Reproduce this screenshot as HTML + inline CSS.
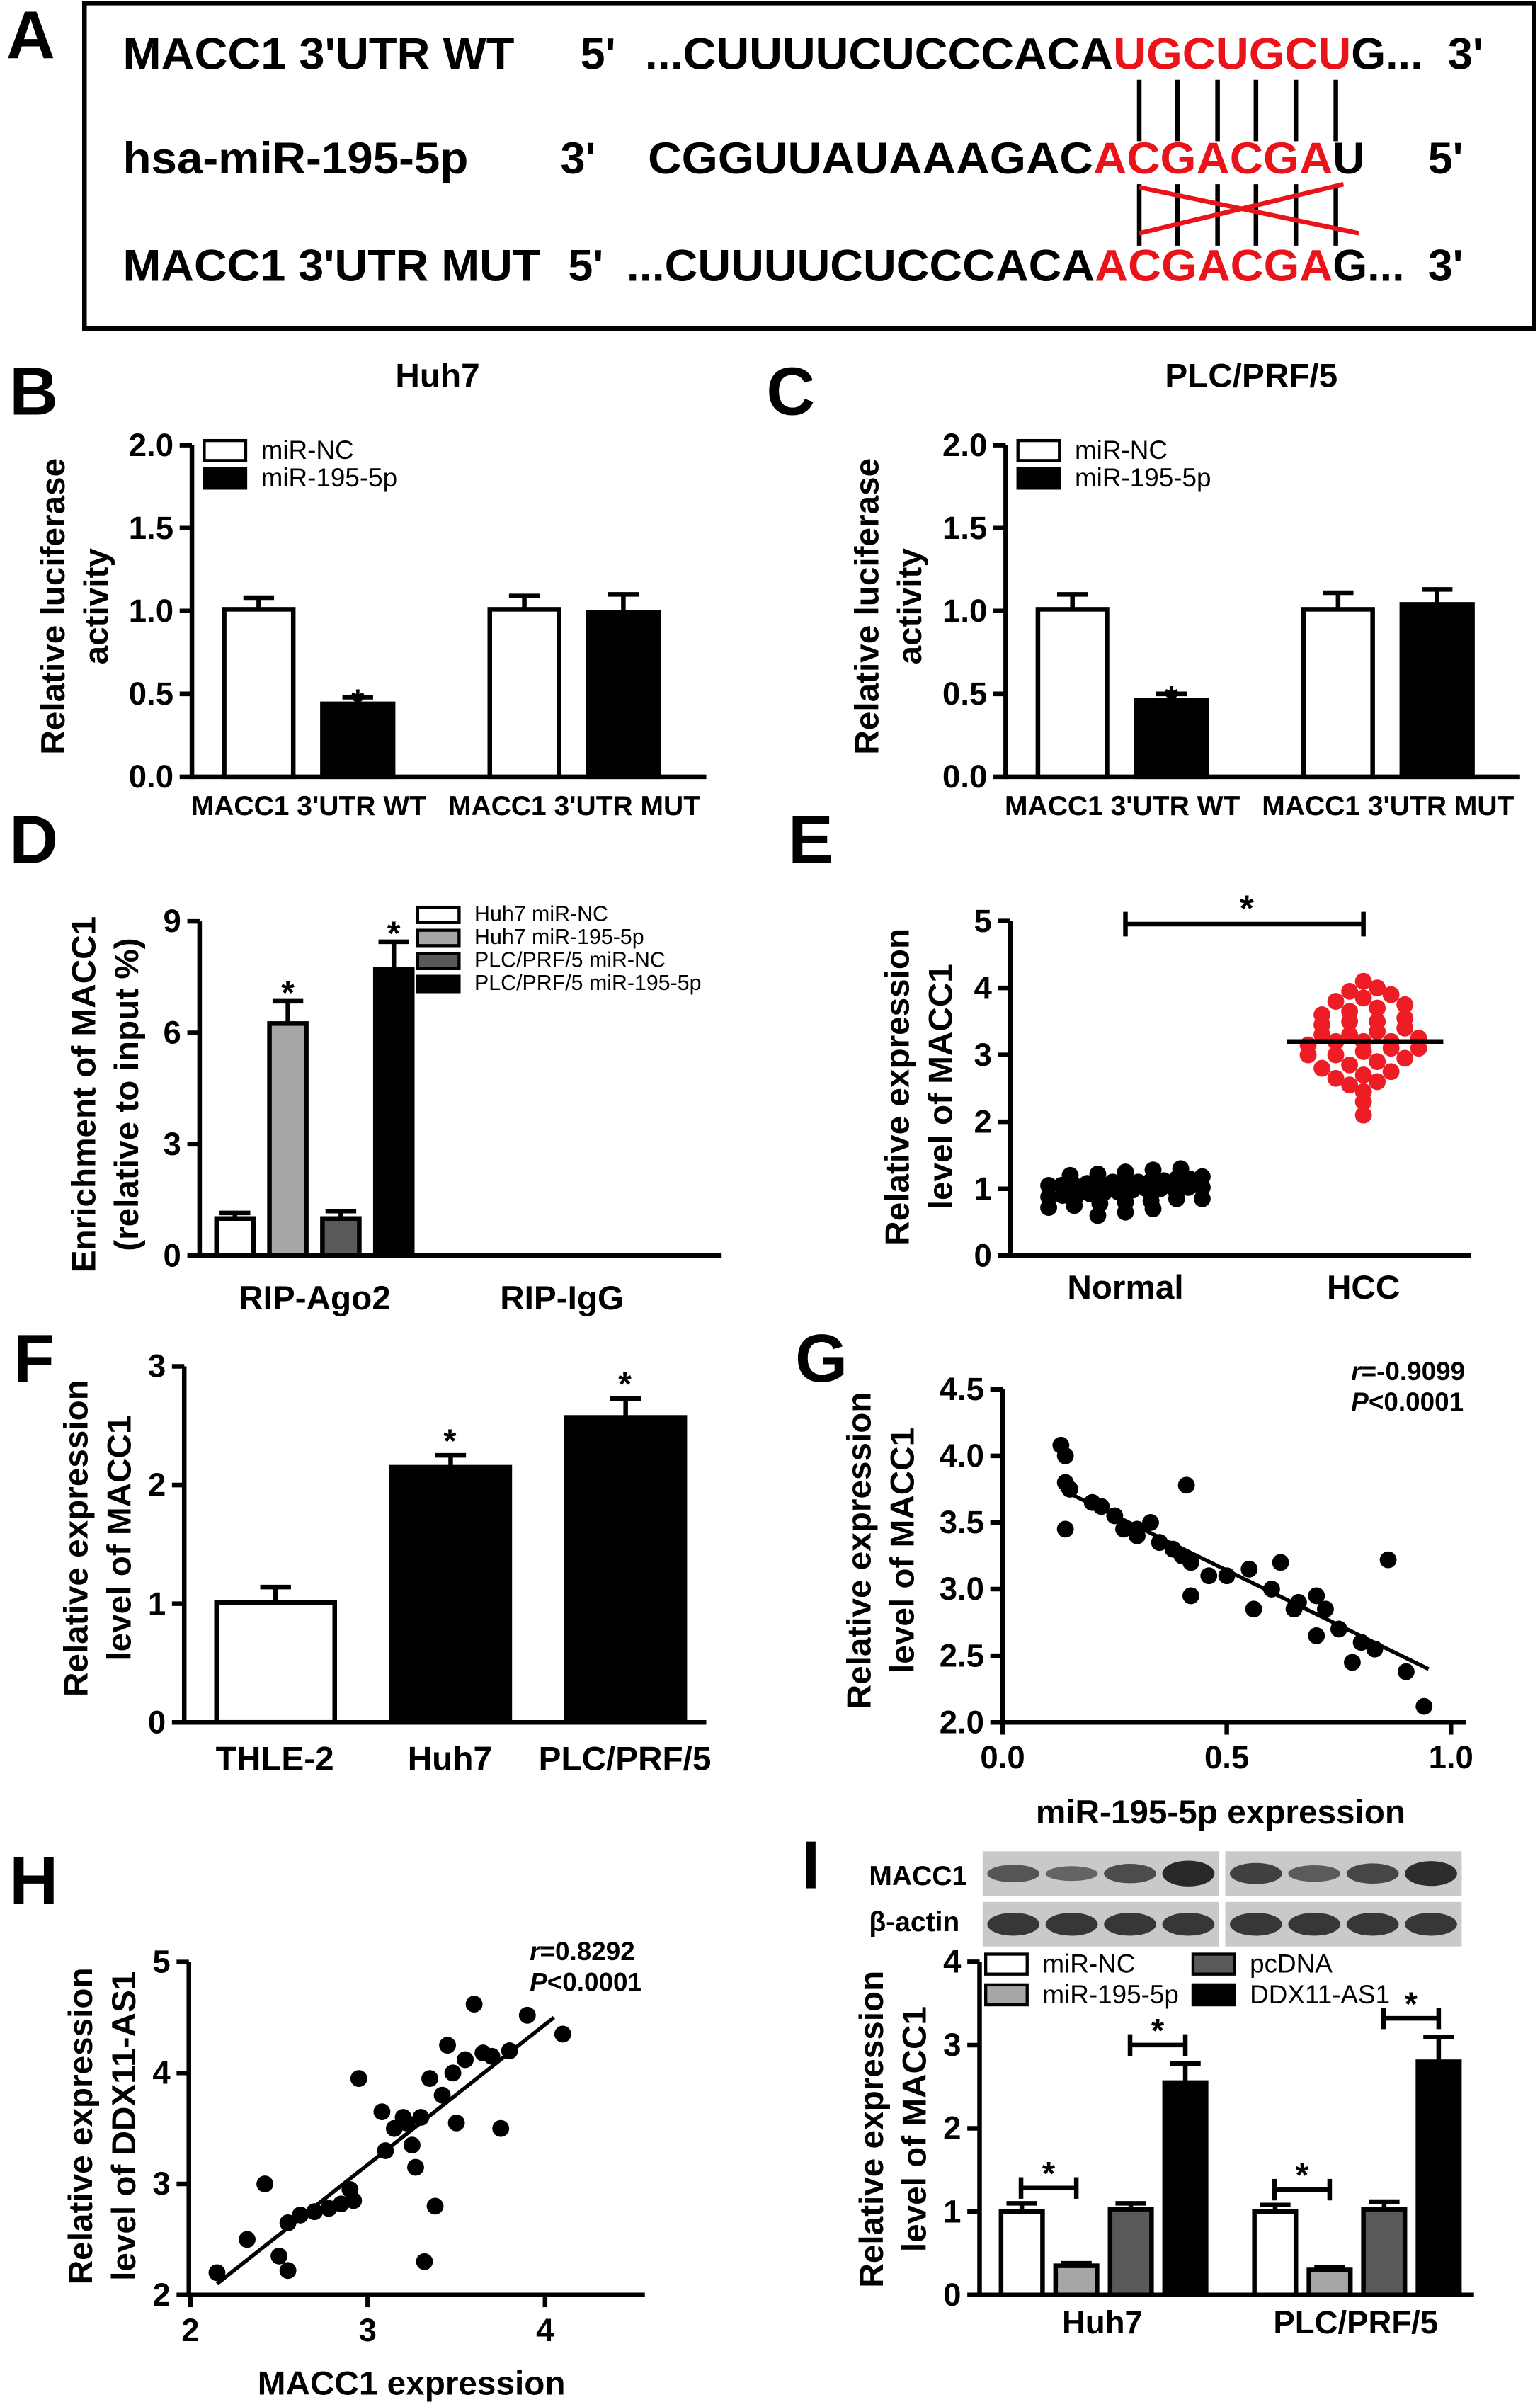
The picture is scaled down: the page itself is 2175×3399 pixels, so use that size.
<!DOCTYPE html>
<html><head><meta charset="utf-8"><style>
html,body{margin:0;padding:0;background:#fff}
svg{display:block}
text{font-family:"Liberation Sans",Arial,sans-serif}
</style></head><body>
<svg id="fig" width="2175" height="3399" viewBox="0 0 1003 1568" preserveAspectRatio="none" xmlns="http://www.w3.org/2000/svg">
<g font-weight="bold" font-size="29">
<rect x="55" y="2" width="944" height="212" fill="none" stroke="#000" stroke-width="3"/>
<text x="80" y="45" textLength="255" lengthAdjust="spacingAndGlyphs">MACC1 3'UTR WT</text>
<text x="378" y="45">5'</text>
<text x="420" y="45" textLength="305" lengthAdjust="spacingAndGlyphs">...CUUUUCUCCCACA</text>
<text x="725" y="45" textLength="155" lengthAdjust="spacingAndGlyphs" fill="#e8141a">UGCUGCU</text>
<text x="880" y="45">G...</text>
<text x="943" y="45">3'</text>
<text x="80" y="113" textLength="225" lengthAdjust="spacingAndGlyphs">hsa-miR-195-5p</text>
<text x="365" y="113">3'</text>
<text x="422" y="113" textLength="290" lengthAdjust="spacingAndGlyphs">CGGUUAUAAAGAC</text>
<text x="712" y="113" textLength="156" lengthAdjust="spacingAndGlyphs" fill="#e8141a">ACGACGA</text>
<text x="868" y="113">U</text>
<text x="930" y="113">5'</text>
<text x="80" y="183" textLength="272" lengthAdjust="spacingAndGlyphs">MACC1 3'UTR MUT</text>
<text x="370" y="183">5'</text>
<text x="408" y="183" textLength="305" lengthAdjust="spacingAndGlyphs">...CUUUUCUCCCACA</text>
<text x="713" y="183" textLength="155" lengthAdjust="spacingAndGlyphs" fill="#e8141a">ACGACGA</text>
<text x="868" y="183">G...</text>
<text x="930" y="183">3'</text>
<g id="pairs" stroke="#000" stroke-width="3"></g>
<line x1="742" y1="122" x2="885" y2="152" stroke="#e8141a" stroke-width="3"/>
<line x1="742" y1="152" x2="875" y2="120" stroke="#e8141a" stroke-width="3"/>
</g>
</svg>
<script>
const NS='http://www.w3.org/2000/svg';
const svg=document.getElementById('fig');
function el(tag,parent,a,name){const e=document.createElementNS(NS,tag);for(const k in a)e.setAttribute(k,a[k]);


(parent||svg).appendChild(e);return e;}
function tx(parent,x,y,s,size,name,opts){const t=el('text',parent,Object.assign({x:x,y:y,'font-size':size,'font-weight':'bold','text-anchor':'middle'},opts||{}),name);t.textContent=s;return t;}
const pairs=document.getElementById('pairs');
const pairX=[742,767,793,818,844,870];
pairX.forEach((x,i)=>{el('line',pairs,{x1:x,y1:52,x2:x,y2:92},'pair-line');el('line',pairs,{x1:x,y1:120,x2:x,y2:160},'mut-pair-line');});
[['A',20,38],['B',22,270],['C',515,270],['D',22,562],['E',528,562],['F',22,900],['G',535,900],['H',22,1240],['I',528,1230]].forEach(p=>tx(null,p[1],p[2],p[0],44,'panel-letter-'+p[0].toLowerCase()));

function ytitle(g,x,y,lines,size){lines.forEach((l,i)=>{tx(g,0,0,l,size||22,'y-axis-title',{transform:`translate(${x+i*28},${y}) rotate(-90)`});});}
function axes(g,x0,x1,y0,ys,ticks,fmt,size){
  el('line',g,{x1:x0,y1:y0,x2:x1,y2:y0,stroke:'#000','stroke-width':3},'x-axis');
  const top=ys(ticks[ticks.length-1]);
  el('line',g,{x1:x0,y1:y0+1.5,x2:x0,y2:top,stroke:'#000','stroke-width':3},'y-axis');
  ticks.forEach(t=>{const y=ys(t);el('line',g,{x1:x0-8,y1:y,x2:x0,y2:y,stroke:'#000','stroke-width':3},'y-tick');
  tx(g,x0-12,y+7,fmt(t),size||20,'y-tick-label',{'text-anchor':'end'});});
}
function bar(g,x,w,v,err,fill,ys,name){
  if(err!=null){el('line',g,{x1:x+w/2,y1:ys(v),x2:x+w/2,y2:ys(err),stroke:'#000','stroke-width':3},name+'-error');
  el('line',g,{x1:x+w/2-10,y1:ys(err),x2:x+w/2+10,y2:ys(err),stroke:'#000','stroke-width':3},name+'-error-cap');}
  el('rect',g,{x:x,y:ys(v),width:w,height:ys(0)-ys(v),fill:fill,stroke:'#000','stroke-width':3},name);
}
function legend(g,x,y,fill,label,size,w,h,name){el('rect',g,{x:x,y:y,width:w,height:h,fill:fill,stroke:'#000','stroke-width':2},name+'-swatch');
tx(g,x+w+10,y+h-1,label,size,name+'-label',{'text-anchor':'start','font-weight':'normal'});}

// ===== Panels B & C =====
const lucCats=["MACC1 3'UTR WT","MACC1 3'UTR MUT"];
const lucTicks=[0,0.5,1.0,1.5,2.0];
const huhNC=[1.01,1.01], huhNCerr=[1.08,1.09];
const huh195=[0.44,0.99], huh195err=[0.48,1.10];
const plcNC=[1.01,1.01], plcNCerr=[1.10,1.11];
const plc195=[0.46,1.04], plc195err=[0.50,1.13];
const lucStar=[true,false];
function lucPanel(ox,title,nc,ncE,m,mE,name){
  const g=el('g',null,{},name);
  const ys=v=>506-v*108;
  tx(g,ox+285,252,title,22,'chart-title');
  axes(g,ox+125,ox+460,506,ys,lucTicks,t=>t.toFixed(1),21);
  lucCats.forEach((c,i)=>{const cx=ox+146+i*173;
    bar(g,cx,45,nc[i],ncE[i],'#fff',ys,'bar-mir-nc');
    bar(g,cx+64,46,m[i],mE[i],'#000',ys,'bar-mir-195');
    if(lucStar[i])tx(g,cx+87,ys(mE[i])+10,'*',22,'significance-star');
    tx(g,cx+55,531,c,18,'x-category-label');});
  legend(g,ox+133,287,'#fff','miR-NC',17,27,13,'legend-mir-nc');
  legend(g,ox+133,305,'#000','miR-195-5p',17,27,13,'legend-mir-195');
  ytitle(g,ox+42,395,['Relative  luciferase','activity'],22);
}
lucPanel(0,'Huh7',huhNC,huhNCerr,huh195,huh195err,'panel-b');
lucPanel(530,'PLC/PRF/5',plcNC,plcNCerr,plc195,plc195err,'panel-c');

// ===== Panel D =====
const ripCats=['RIP-Ago2','RIP-IgG'];
const ripTicks=[0,3,6,9];
const ripSeries=['Huh7 miR-NC','Huh7 miR-195-5p','PLC/PRF/5 miR-NC','PLC/PRF/5 miR-195-5p'];
const ripAgo=[1.0,6.25,1.0,7.7];
const ripAgoErr=[1.15,6.85,1.2,8.45];
const ripIgG=[0,0,0,0];
const ripStar=[false,true,false,true];
(function(){const g=el('g',null,{},'panel-d');const ys=v=>818-v*24.2;
const fills=['#fff','#a6a6a6','#595959','#000'];
axes(g,130,470,818,ys,ripTicks,t=>String(t),21);
ripSeries.forEach((s,i)=>{const x=141+i*34.5;bar(g,x,24,ripAgo[i],ripAgoErr[i],fills[i],ys,'bar-rip-ago2');
 if(ripStar[i])tx(g,x+12,ys(ripAgoErr[i])+2,'*',22,'significance-star');
 if(ripIgG[i]>0)bar(g,x+160,24,ripIgG[i],null,fills[i],ys,'bar-rip-igg');
 legend(g,272,591+i*15,fills[i],s,14,27,10,'legend-entry');});
tx(g,205,853,ripCats[0],22,'x-category-label');tx(g,366,853,ripCats[1],22,'x-category-label');
ytitle(g,62,713,['Enrichment of MACC1','(relative to input %)'],22);})();

// ===== Panel E =====
const normalVals=[0.6,0.65,0.7,0.72,0.75,0.78,0.8,0.82,0.85,0.85,0.88,0.9,0.9,0.92,0.95,0.95,0.98,1.0,1.0,1.0,1.02,1.02,1.05,1.05,1.05,1.08,1.08,1.1,1.1,1.1,1.12,1.12,1.15,1.15,1.18,1.2,1.22,1.25,1.28,1.3];
const hccVals=[2.1,2.3,2.45,2.55,2.6,2.65,2.7,2.75,2.8,2.85,2.9,2.95,3.0,3.0,3.05,3.1,3.1,3.15,3.2,3.2,3.2,3.25,3.3,3.3,3.35,3.4,3.45,3.5,3.5,3.55,3.6,3.65,3.7,3.75,3.8,3.85,3.9,3.95,4.0,4.1];
const normalMean=1.0, hccMean=3.2;
const eTicks=[0,1,2,3,4,5];
(function(){const g=el('g',null,{},'panel-e');const ys=v=>818-v*43.6;
axes(g,658,958,818,ys,eTicks,t=>String(t),21);
function swarm(vals,cx,color,name){const rows={};vals.forEach(v=>{const r=Math.round(v/0.16);rows[r]=(rows[r]||[]);rows[r].push(v);});
 Object.keys(rows).forEach(r=>{const arr=rows[r];const n=arr.length;arr.forEach((v,i)=>{const off=(i-(n-1)/2)*(n>5?100/(n-1):18);
 el('circle',g,{cx:cx+off,cy:ys(v),r:5.5,fill:color},name);});});}
swarm(normalVals,733,'#000','point-normal');swarm(hccVals,888,'#ee1c25','point-hcc');
el('line',g,{x1:683,y1:ys(normalMean),x2:785,y2:ys(normalMean),stroke:'#000','stroke-width':3},'mean-line-normal');
el('line',g,{x1:838,y1:ys(hccMean),x2:940,y2:ys(hccMean),stroke:'#000','stroke-width':3},'mean-line-hcc');
el('line',g,{x1:733,y1:602,x2:888,y2:602,stroke:'#000','stroke-width':3},'significance-bracket');
el('line',g,{x1:733,y1:594,x2:733,y2:610,stroke:'#000','stroke-width':3},'bracket-end');
el('line',g,{x1:888,y1:594,x2:888,y2:610,stroke:'#000','stroke-width':3},'bracket-end');
tx(g,812,600,'*',24,'significance-star');
tx(g,733,846,'Normal',22,'x-category-label');tx(g,888,846,'HCC',22,'x-category-label');
ytitle(g,592,708,['Relative expression','level of MACC1'],22);})();

// ===== Panel F =====
const fCats=['THLE-2','Huh7','PLC/PRF/5'];
const fVals=[1.01,2.15,2.57];
const fErr=[1.14,2.25,2.73];
const fStar=[false,true,true];
const fTicks=[0,1,2,3];
(function(){const g=el('g',null,{},'panel-f');const ys=v=>1122-v*77.3;
axes(g,120,460,1122,ys,fTicks,t=>String(t),21);
fCats.forEach((c,i)=>{const x=141+i*114;bar(g,x,77,fVals[i],fErr[i],i==0?'#fff':'#000',ys,'bar-'+c.toLowerCase().replace(/\W/g,''));
 if(fStar[i])tx(g,x+38,ys(fErr[i])-2,'*',22,'significance-star');
 tx(g,x+38,1153,c,22,'x-category-label');});
ytitle(g,57,1002,['Relative expression','level of MACC1'],22);})();

// ===== Panel G =====
const gX=[0.13,0.14,0.14,0.15,0.14,0.2,0.22,0.25,0.27,0.3,0.33,0.35,0.38,0.4,0.42,0.42,0.41,0.3,0.46,0.5,0.55,0.56,0.6,0.62,0.66,0.7,0.72,0.7,0.75,0.78,0.8,0.83,0.86,0.9,0.94,0.65];
const gY=[4.08,4.0,3.8,3.75,3.45,3.65,3.62,3.55,3.45,3.45,3.5,3.35,3.3,3.25,3.2,2.95,3.78,3.4,3.1,3.1,3.15,2.85,3.0,3.2,2.9,2.95,2.85,2.65,2.7,2.45,2.6,2.55,3.22,2.38,2.12,2.85];
const gFit=[[0.13,3.75],[0.95,2.4]];
const gXTicks=[0,0.5,1.0], gYTicks=[2.0,2.5,3.0,3.5,4.0,4.5];
function scatter(name,x0,x1,y0,xs,ys,xt,yt,fx,fy,px,py,fit,xTitle,yLines,ann,yTitleX,yTitleY){
 const g=el('g',null,{},name);
 axes(g,x0,x1,y0,ys,yt,fy,21);
 xt.forEach(t=>{el('line',g,{x1:xs(t),y1:y0,x2:xs(t),y2:y0+8,stroke:'#000','stroke-width':3},'x-tick');tx(g,xs(t),y0+30,fx(t),21,'x-tick-label');});
 px.forEach((v,i)=>el('circle',g,{cx:xs(v),cy:ys(py[i]),r:5.5,fill:'#000'},'data-point'));
 el('line',g,{x1:xs(fit[0][0]),y1:ys(fit[0][1]),x2:xs(fit[1][0]),y2:ys(fit[1][1]),stroke:'#000','stroke-width':2.5},'regression-line');
 const t1=tx(g,ann[0],ann[1],'',17,'correlation-r',{'text-anchor':'start'});t1.innerHTML='<tspan font-style="italic">r</tspan>='+ann[2];
 const t2=tx(g,ann[0],ann[1]+20,'',17,'p-value',{'text-anchor':'start'});t2.innerHTML='<tspan font-style="italic">P</tspan>&lt;0.0001';
 tx(g,xTitle[1],xTitle[2],xTitle[0],22,'x-axis-title');
 ytitle(g,yTitleX,yTitleY,yLines,22);
}
scatter('panel-g',653,955,1122,v=>653+v*292,v=>1122-(v-2)*86.8,gXTicks,gYTicks,t=>t.toFixed(1),t=>t.toFixed(1),gX,gY,gFit,['miR-195-5p expression',795,1188],['Relative expression','level of MACC1'],[880,899,'-0.9099'],567,1010);

// ===== Panel H =====
const hX=[2.15,2.32,2.42,2.5,2.55,2.55,2.62,2.7,2.78,2.85,2.9,2.92,2.95,3.08,3.1,3.15,3.2,3.22,3.25,3.27,3.3,3.32,3.35,3.38,3.42,3.45,3.5,3.55,3.6,3.65,3.7,3.75,3.8,3.9,4.1,3.48];
const hY=[2.2,2.5,3.0,2.35,2.22,2.65,2.72,2.75,2.78,2.82,2.95,2.85,3.95,3.65,3.3,3.5,3.6,3.55,3.35,3.15,3.6,2.3,3.95,2.8,3.8,4.25,3.55,4.12,4.62,4.18,4.15,3.5,4.2,4.52,4.35,4.0];
const hFit=[[2.15,2.1],[4.05,4.5]];
const hXTicks=[2,3,4], hYTicks=[2,3,4,5];
scatter('panel-h',123,420,1495,v=>124+(v-2)*115.5,v=>1495-(v-2)*72.3,hXTicks,hYTicks,t=>String(t),t=>String(t),hX,hY,hFit,['MACC1 expression',268,1560],['Relative expression','level of DDX11-AS1'],[345,1277,'0.8292'],60,1385);

// ===== Panel I =====
const iCats=['Huh7','PLC/PRF/5'];
const iSeries=['miR-NC','miR-195-5p','pcDNA','DDX11-AS1'];
const iHuh=[1.0,0.35,1.03,2.55], iHuhErr=[1.1,0.38,1.1,2.78];
const iPlc=[1.0,0.3,1.03,2.8], iPlcErr=[1.08,0.33,1.12,3.1];
const iTicks=[0,1,2,3,4];
const blotMacc=[0.45,0.3,0.55,0.9,0.65,0.4,0.6,0.85];
const blotActin=[0.75,0.75,0.75,0.75,0.75,0.75,0.75,0.75];
(function(){const g=el('g',null,{},'panel-i');const ys=v=>1495-v*54.25;
const fills=['#fff','#a6a6a6','#595959','#000'];
[[1206,blotMacc,'blot-macc1'],[1239,blotActin,'blot-beta-actin']].forEach(r=>{
 [640,798].forEach((bx,k)=>{el('rect',g,{x:bx,y:r[0],width:154,height:29,fill:'#c9c9c9'},r[2]+'-membrane');
 for(let j=0;j<4;j++){const v=r[1][k*4+j];el('ellipse',g,{cx:bx+20+j*38,cy:r[0]+14.5,rx:17,ry:3+v*6,fill:'#000','fill-opacity':0.35+v*0.5},r[2]+'-band');}});});
tx(g,566,1228,'MACC1',18,'blot-label-macc1',{'text-anchor':'start'});
tx(g,566,1258,'β-actin',18,'blot-label-actin',{'text-anchor':'start'});
axes(g,638,960,1495,ys,iTicks,t=>String(t),21);
[[iHuh,iHuhErr,652],[iPlc,iPlcErr,817]].forEach((d,k)=>{
 d[0].forEach((v,i)=>bar(g,d[2]+i*35.5,27,v,d[1][i],fills[i],ys,'bar-'+iSeries[i].toLowerCase().replace(/\W/g,'')));
 tx(g,d[2]+66,1520,iCats[k],21,'x-category-label');
 const b1=ys(d[1][0])-10,b2=ys(d[1][3])-12;
 [[d[2]+13,d[2]+49,b1],[d[2]+84,d[2]+120,b2]].forEach(b=>{
  el('line',g,{x1:b[0],y1:b[2],x2:b[1],y2:b[2],stroke:'#000','stroke-width':3},'significance-bracket');
  el('line',g,{x1:b[0],y1:b[2]-7,x2:b[0],y2:b[2]+7,stroke:'#000','stroke-width':3},'bracket-end');
  el('line',g,{x1:b[1],y1:b[2]-7,x2:b[1],y2:b[2]+7,stroke:'#000','stroke-width':3},'bracket-end');
  tx(g,(b[0]+b[1])/2,b[2]-2,'*',22,'significance-star');});
});
legend(g,642,1273,fills[0],iSeries[0],17,27,13,'legend-mir-nc');
legend(g,642,1293,fills[1],iSeries[1],17,27,13,'legend-mir-195');
legend(g,777,1273,fills[2],iSeries[2],17,27,13,'legend-pcdna');
legend(g,777,1293,fills[3],iSeries[3],17,27,13,'legend-ddx11');
ytitle(g,575,1387,['Relative expression','level of MACC1'],22);})();
</script>
</body></html>
